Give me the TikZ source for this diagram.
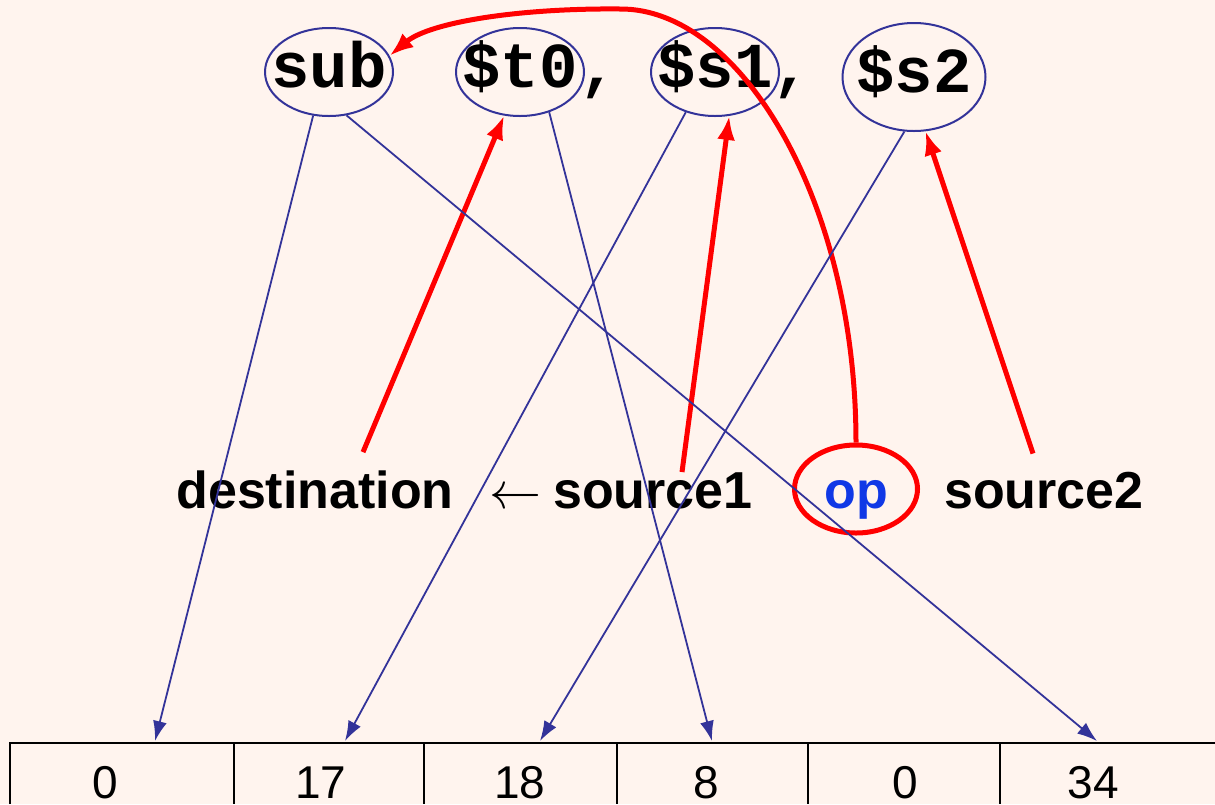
\RequirePackage{fix-cm}
\documentclass[tikz,border=0pt]{standalone}
\usepackage{fontspec}
\setmainfont{Liberation Sans}
\setmonofont{Liberation Mono}
\usetikzlibrary{arrows.meta,shapes.geometric}
\definecolor{bgpink}{RGB}{255,244,238}
\definecolor{wireblue}{RGB}{51,51,153}
\definecolor{opblue}{RGB}{16,56,230}
\tikzset{wire/.style={draw=wireblue, line width=1.8pt, arrows={-Latex[length=20pt,width=14pt]}},
  pick/.style={draw=red, line width=5pt, arrows={-Latex[length=24pt,width=18pt]}}}

\begin{document}
\begin{tikzpicture}[x=1pt, y=-1pt,
  reg/.style={ellipse, draw=wireblue, line width=2pt, inner sep=0pt, minimum width=128pt, minimum height=88pt, text height=36pt, text depth=6pt, font=\ttfamily\bfseries\fontsize{64}{70}\selectfont},
  code/.style={anchor=base, inner sep=0pt, font=\ttfamily\bfseries\fontsize{64}{70}\selectfont},
  field/.style={anchor=base, inner sep=0pt, font=\bfseries\fontsize{52}{60}\selectfont},
  num/.style={anchor=base, inner sep=0pt, font=\fontsize{46}{50}\selectfont}]
\fill[bgpink] (0,0) rectangle (1215,804); \useasboundingbox (0,0) rectangle (1215,804);
% instruction
\node[reg] (sub) at (329,72) {\makebox[0pt]{sub}}; \node[reg] (t0) at (520,72) {\makebox[0pt]{\$t0}};
\node[reg] (s1) at (715,72) {\makebox[0pt]{\$s1}}; \node[reg, minimum width=143pt, minimum height=108pt] (s2) at (914,77) {\makebox[0pt]{\$s2}};
\node[code] (c1) at (599,87) {,}; \node[code] (c2) at (792,87) {,};
% meaning
\node[field] (dest) at (315,508) {destination}; \node[field, font=\fontsize{52}{60}\selectfont] (gets) at (515,508) {$\leftarrow$};
\node[field] (src1) at (653,508) {source1}; \node[field] (src2) at (1044,508) {source2};
\node[ellipse, draw=red, line width=5pt, inner sep=0pt, minimum width=123pt, minimum height=88pt, text height=38pt, text depth=0pt, text=opblue, font=\bfseries\fontsize{52}{60}\selectfont] (op) at (856,489) {\makebox[0pt]{op}};
\path[pick] ([xshift=48pt,yshift=18pt]dest.north) -- (t0.250); \path[pick] ([xshift=29pt]src1.north) -- (s1.288);
\path[pick] ([xshift=-11pt,yshift=18pt]src2.north) -- (s2.282);
\path[pick] (op.north) .. controls (856,200) and (740,8) .. (620,9) .. controls (520,8) and (430,22) .. (sub.15);
% machine fields
\coordinate (opf) at (155,741); \coordinate (rsf) at (345,741); \coordinate (rtf) at (540,741); \coordinate (rdf) at (712,741); \coordinate (fnf) at (1097,741);
\draw[line width=2.5pt] (10,804) -- (10,743) -- (1215,743);
\foreach \x in {234,424,617,808,1000} \draw[line width=2.5pt] (\x,743) -- (\x,804);
\node[num] (n1) at (105,798) {0}; \node[num] (n2) at (321,798) {17}; \node[num] (n3) at (520,798) {18};
\node[num] (n4) at (706,798) {8}; \node[num] (n5) at (905,798) {0}; \node[num] (n6) at (1093,798) {34};
\path[wire] (sub.250) -- (opf); \path[wire] (sub.292) -- (fnf); \path[wire] (t0.306) -- (rdf);
\path[wire] (s1.234) -- (rsf); \path[wire] (s2.260) -- (rtf);
\end{tikzpicture}
\end{document}
